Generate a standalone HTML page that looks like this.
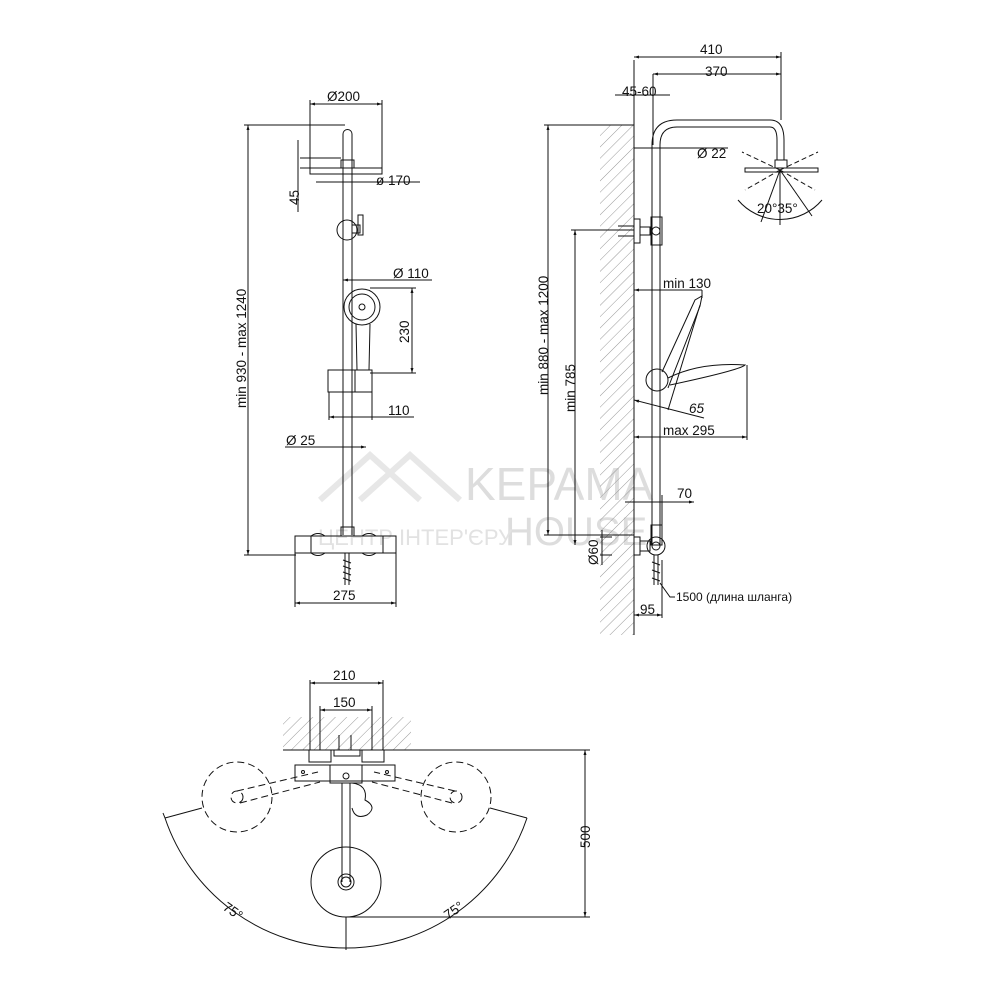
<!DOCTYPE html>
<html><head><meta charset="utf-8"><style>
html,body{margin:0;padding:0;background:#fff}
svg{display:block}
text{font-family:"Liberation Sans",sans-serif;font-size:13.5px;fill:#111}
</style></head><body>
<svg width="1000" height="1000" viewBox="0 0 1000 1000" xmlns="http://www.w3.org/2000/svg">
<defs>
<pattern id="h" width="8" height="8" patternUnits="userSpaceOnUse" patternTransform="rotate(45)">
<line x1="0" y1="0" x2="0" y2="8" stroke="#999" stroke-width="1"/>
</pattern>
<marker id="a" viewBox="0 0 10 10" refX="10" refY="5" markerWidth="9" markerHeight="5" orient="auto-start-reverse"><path d="M0,2 L10,5 L0,8z" fill="#111"/></marker>
</defs>
<!-- watermark -->
<g opacity="0.35" fill="none" stroke="#bbb" stroke-width="6">
<polyline points="320,500 370,455 420,500"/><polyline points="360,500 410,455 460,500"/>
</g>
<text x="465" y="500" style="font-size:46px;fill:#ddd">KEPAMA</text>
<text x="505" y="545" style="font-size:40px;fill:#ddd">HOUSE</text>
<text x="318" y="545" style="font-size:22px;fill:#e2e2e2">ЦЕНТР ІНТЕР'ЄРУ</text>

<g stroke="#111" stroke-width="1" fill="none">
<!-- ===== FRONT VIEW ===== -->
<path d="M343,535 V134 a4.5,4.5 0 0 1 9,0 V535"/>
<rect x="341" y="160" width="13" height="8"/>
<rect x="310" y="168" width="72" height="6"/>
<line x1="316" y1="174" x2="376" y2="174"/>
<circle cx="347" cy="230" r="10"/>
<rect x="352" y="225" width="8" height="8"/><rect x="358" y="215" width="5" height="20"/>
<circle cx="362" cy="307" r="18"/><circle cx="362" cy="307" r="13"/><circle cx="362" cy="307" r="3"/>
<path d="M356,324 L357,370 H369 L370,324"/>
<rect x="328" y="370" width="44" height="22"/>
<rect x="355" y="370" width="17" height="22"/>
<rect x="295" y="536" width="101" height="17"/>
<line x1="311" y1="536" x2="311" y2="553"/><line x1="383" y1="536" x2="383" y2="553"/>
<path d="M311,536 q7,-5 14,0 M362,536 q7,-5 14,0 M311,553 q7,5 14,0 M362,553 q7,5 14,0"/>
<rect x="341" y="527" width="13" height="9"/>
<path d="M345,553 V585 M349,553 V585 M343,560 l8,3 M343,566 l8,3 M343,572 l8,3 M343,578 l8,3"/>
<!-- dims -->
<line x1="310" y1="100" x2="310" y2="168"/><line x1="382" y1="100" x2="382" y2="168"/>
<line x1="310" y1="104" x2="382" y2="104" marker-start="url(#a)" marker-end="url(#a)"/>
<line x1="316" y1="182" x2="420" y2="182"/>
<line x1="298" y1="140" x2="298" y2="212"/>
<line x1="300" y1="158" x2="341" y2="158"/><line x1="300" y1="168" x2="310" y2="168"/>
<line x1="248" y1="125" x2="248" y2="555" marker-start="url(#a)" marker-end="url(#a)"/>
<line x1="244" y1="125" x2="345" y2="125"/><line x1="244" y1="555" x2="296" y2="555"/>
<line x1="343" y1="280" x2="432" y2="280" marker-start="url(#a)"/>
<line x1="370" y1="288" x2="416" y2="288"/><line x1="370" y1="373" x2="416" y2="373"/>
<line x1="412" y1="288" x2="412" y2="373" marker-start="url(#a)" marker-end="url(#a)"/>
<line x1="329" y1="392" x2="329" y2="420"/><line x1="372" y1="392" x2="372" y2="420"/>
<line x1="329" y1="417" x2="414" y2="417" marker-start="url(#a)"/>
<line x1="285" y1="447" x2="366" y2="447" marker-end="url(#a)"/>
<line x1="295" y1="553" x2="295" y2="607"/><line x1="396" y1="553" x2="396" y2="607"/>
<line x1="295" y1="603" x2="396" y2="603" marker-start="url(#a)" marker-end="url(#a)"/>
</g>
<text x="327" y="101">Ø200</text>
<text x="376" y="185">ø 170</text>
<text transform="translate(299,205) rotate(-90)">45</text>
<text transform="translate(246,408) rotate(-90)">min 930 - max 1240</text>
<text x="393" y="278">Ø 110</text>
<text transform="translate(409,343) rotate(-90)">230</text>
<text x="388" y="415">110</text>
<text x="286" y="445">Ø 25</text>
<text x="333" y="600">275</text>

<!-- ===== SIDE VIEW ===== -->
<rect x="600" y="125" width="34" height="510" fill="url(#h)"/>
<g stroke="#111" stroke-width="1" fill="none">
<line x1="634" y1="60" x2="634" y2="635"/>
<path d="M652,545 V145 Q652,120 677,120 H770 Q784,120 784,140 V160"/>
<path d="M660,545 V145 Q660,127 677,127 H770 Q777,127 777,140 V160"/>
<rect x="775" y="160" width="12" height="8"/>
<rect x="745" y="168" width="73" height="4"/>
<path d="M738,200 A55,55 0 0 0 822,200"/>
<g stroke-dasharray="5,3">
<path d="M780,170 L742,152 M780,170 L818,152 M780,170 L745,190 M780,170 L815,190"/>
</g>
<line x1="780" y1="170" x2="761" y2="222"/><line x1="780" y1="170" x2="780" y2="225"/><line x1="780" y1="170" x2="812" y2="216"/>
<rect x="634" y="219" width="6" height="24"/><rect x="640" y="227" width="10" height="8"/>
<circle cx="656" cy="231" r="4"/><rect x="651" y="217" width="11" height="28"/>
<path d="M618,226 h16 M618,236 h16"/>
<circle cx="657" cy="380" r="11"/>
<path d="M662,372 L695,300 L702,296 L700,306 L668,388"/>
<path d="M668,378 Q700,362 745,365 Q740,370 670,385"/>
<rect x="651" y="525" width="11" height="20"/>
<rect x="634" y="537" width="6" height="18"/><rect x="640" y="541" width="10" height="10"/>
<circle cx="656" cy="546" r="9"/><circle cx="656" cy="546" r="4"/>
<path d="M654,555 V585 M658,555 V585 M652,562 l8,3 M652,570 l8,3 M652,578 l8,3"/>
<path d="M660,583 L670,597 H675"/>
<!-- dims -->
<line x1="781" y1="52" x2="781" y2="120"/>
<line x1="634" y1="57" x2="781" y2="57" marker-start="url(#a)" marker-end="url(#a)"/>
<line x1="653" y1="74" x2="653" y2="145"/>
<line x1="653" y1="74" x2="781" y2="74" marker-start="url(#a)" marker-end="url(#a)"/>
<line x1="615" y1="95" x2="670" y2="95"/>
<line x1="634" y1="148" x2="728" y2="148"/>
<line x1="544" y1="125" x2="634" y2="125"/>
<line x1="548" y1="125" x2="548" y2="535" marker-start="url(#a)" marker-end="url(#a)"/>
<line x1="544" y1="535" x2="634" y2="535"/>
<line x1="571" y1="230" x2="634" y2="230"/>
<line x1="575" y1="230" x2="575" y2="545" marker-start="url(#a)" marker-end="url(#a)"/>
<line x1="634" y1="290" x2="702" y2="290" marker-start="url(#a)"/>
<line x1="702" y1="290" x2="702" y2="298"/>
<line x1="634" y1="400" x2="704" y2="418" marker-start="url(#a)"/>
<line x1="668" y1="410" x2="700" y2="305"/>
<line x1="747" y1="365" x2="747" y2="440"/>
<line x1="634" y1="437" x2="747" y2="437" marker-start="url(#a)" marker-end="url(#a)"/>
<line x1="625" y1="502" x2="694" y2="502" marker-end="url(#a)"/>
<line x1="662" y1="495" x2="662" y2="525"/>
<line x1="600" y1="537" x2="612" y2="537"/><line x1="600" y1="555" x2="612" y2="555"/>
<line x1="602" y1="530" x2="602" y2="565"/>
<line x1="662" y1="560" x2="662" y2="618"/>
<line x1="634" y1="615" x2="662" y2="615" marker-start="url(#a)" marker-end="url(#a)"/>
</g>
<text x="700" y="54">410</text>
<text x="705" y="76">370</text>
<text x="622" y="96">45-60</text>
<text x="697" y="158">Ø 22</text>
<text x="757" y="213">20°35°</text>
<text transform="translate(548,395) rotate(-90)">min 880 - max 1200</text>
<text transform="translate(575,412) rotate(-90)">min 785</text>
<text x="663" y="288">min 130</text>
<text x="689" y="413" style="font-style:italic">65</text>
<text x="663" y="435">max 295</text>
<text x="677" y="498">70</text>
<text transform="translate(598,565) rotate(-90)">Ø60</text>
<text x="676" y="601" style="font-size:12px">1500 (длина шланга)</text>
<text x="640" y="614">95</text>

<!-- ===== TOP VIEW ===== -->
<rect x="283" y="717" width="128" height="33" fill="url(#h)"/>
<g stroke="#111" stroke-width="1" fill="none">
<line x1="283" y1="750" x2="590" y2="750"/>
<line x1="310" y1="680" x2="310" y2="750"/><line x1="383" y1="680" x2="383" y2="750"/>
<line x1="310" y1="683" x2="383" y2="683" marker-start="url(#a)" marker-end="url(#a)"/>
<line x1="320" y1="706" x2="320" y2="750"/><line x1="372" y1="706" x2="372" y2="750"/>
<line x1="320" y1="710" x2="372" y2="710" marker-start="url(#a)" marker-end="url(#a)"/>
<rect x="309" y="750" width="22" height="12"/><rect x="362" y="750" width="22" height="12"/>
<rect x="334" y="750" width="26" height="6"/>
<path d="M339,750 V735 M351,750 V735"/>
<rect x="295" y="765" width="100" height="16"/><rect x="330" y="765" width="32" height="18"/>
<circle cx="303" cy="772" r="1.5"/><circle cx="387" cy="772" r="1.5"/>
<circle cx="346" cy="776" r="3"/>
<path d="M352,783 Q368,785 365,800 Q378,807 367,815 Q355,820 352,808"/>
<path d="M342,783 V882 M350,783 V882"/>
<circle cx="346" cy="882" r="35"/><circle cx="346" cy="882" r="8"/><circle cx="346" cy="882" r="5"/>
<g stroke-dasharray="7,4">
<circle cx="237" cy="797" r="35"/><circle cx="456" cy="797" r="35"/>
<circle cx="237" cy="797" r="6"/><circle cx="456" cy="797" r="6"/>
<path d="M240,803 L320,782 M237,791 L318,772 M452,803 L372,782 M455,791 L374,772"/>
</g>
<path d="M165,818 A191,191 0 0 0 346,948 A191,191 0 0 0 527,818" />
<path d="M165,818 l-2,-5 M165,818 L202,808 M527,818 L490,808"/>
<line x1="346" y1="917" x2="346" y2="950"/>
<line x1="346" y1="917" x2="590" y2="917"/>
<line x1="585" y1="750" x2="585" y2="917" marker-start="url(#a)" marker-end="url(#a)"/>
</g>
<text x="333" y="680">210</text>
<text x="333" y="707">150</text>
<text transform="translate(590,848) rotate(-90)">500</text>
<text transform="translate(222,909) rotate(35)">75°</text>
<text transform="translate(448,920) rotate(-35)">75°</text>
</svg>
</body></html>
